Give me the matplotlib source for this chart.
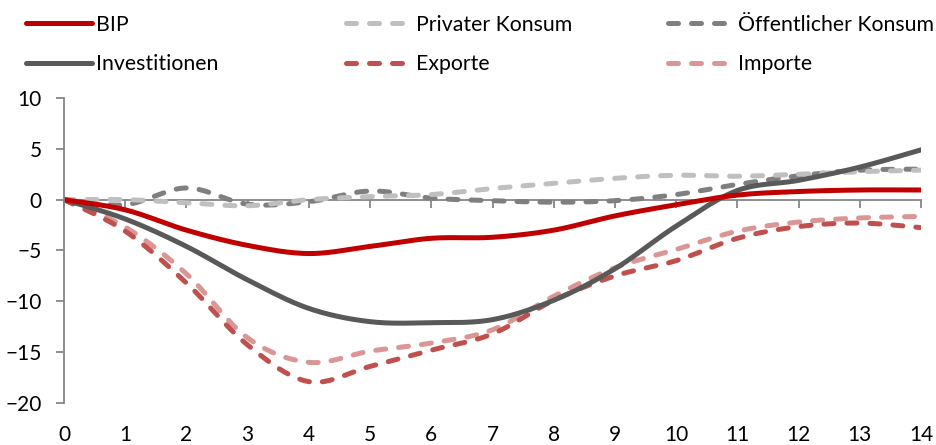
import numpy as np
import matplotlib
matplotlib.use("Agg")
import matplotlib.pyplot as plt
from matplotlib.lines import Line2D

plt.rcParams['font.family'] = ['Lato', 'DejaVu Sans']

quarters = list(range(15))
bip = [0, -1.0, -3.0, -4.5, -5.3, -4.6, -3.8, -3.7, -3.0, -1.6, -0.5, 0.45, 0.8, 0.95, 0.95]
privat = [0, 0.0, -0.3, -0.6, 0.0, 0.3, 0.5, 1.1, 1.6, 2.1, 2.4, 2.3, 2.5, 2.75, 2.9]
oeffentlich = [0, -0.5, 1.15, -0.45, -0.2, 0.85, 0.15, -0.1, -0.25, -0.1, 0.5, 1.5, 2.35, 2.9, 3.0]
invest = [0, -1.9, -4.6, -7.9, -10.7, -12.0, -12.1, -11.8, -9.9, -6.8, -2.6, 0.9, 1.9, 3.2, 4.9]
exporte = [0, -3.1, -8.2, -14.3, -17.9, -16.4, -14.8, -13.2, -9.9, -7.5, -6.0, -3.8, -2.65, -2.3, -2.75]
importe = [0, -2.7, -7.3, -13.6, -16.0, -14.9, -14.1, -12.8, -9.5, -6.7, -4.9, -3.1, -2.2, -1.8, -1.65]

series = [
    ("BIP", bip, "#C00000", "-"),
    ("Investitionen", invest, "#595959", "-"),
    ("Privater Konsum", privat, "#BFBFBF", "--"),
    ("Exporte", exporte, "#C0504D", "--"),
    ("Öffentlicher Konsum", oeffentlich, "#7F7F7F", "--"),
    ("Importe", importe, "#DA9694", "--"),
]
draw_order = [4, 2, 5, 3, 1, 0]


def smooth(x, y, n=24):
    # Excel-style smoothed line: cubic Bezier segments through each point
    x = np.asarray(x, float)
    y = np.asarray(y, float)
    px = np.concatenate([[x[0]], x, [x[-1]]])
    py = np.concatenate([[y[0]], y, [y[-1]]])
    t = np.linspace(0, 1, n)[:, None]
    xs, ys = [], []
    for i in range(1, len(px) - 2):
        p0 = np.array([px[i], py[i]])
        p3 = np.array([px[i + 1], py[i + 1]])
        c1 = p0 + (np.array([px[i + 1], py[i + 1]]) - np.array([px[i - 1], py[i - 1]])) / 6
        c2 = p3 - (np.array([px[i + 2], py[i + 2]]) - np.array([px[i], py[i]])) / 6
        pts = ((1 - t) ** 3) * p0 + 3 * ((1 - t) ** 2) * t * c1 + 3 * (1 - t) * t ** 2 * c2 + t ** 3 * p3
        xs.append(pts[:, 0])
        ys.append(pts[:, 1])
    return np.concatenate(xs), np.concatenate(ys)


fig = plt.figure(figsize=(9.36, 4.45), dpi=100)
ax = fig.add_axes([0.0684, 0.0944, 0.9156, 0.6854])

lw = 3.6
dash = (2.0, 2.6)
handles = {}
for i in draw_order:
    name, vals, color, ls = series[i]
    sx, sy = smooth(quarters, vals)
    if ls == "--":
        line, = ax.plot(sx, sy, color=color, lw=lw, dashes=dash,
                        dash_capstyle="round", solid_capstyle="round")
    else:
        line, = ax.plot(sx, sy, color=color, lw=lw, solid_capstyle="round")
    handles[name] = line

ax.set_xlim(0, 14)
ax.set_ylim(-20, 10)
ax.set_yticks([-20, -15, -10, -5, 0, 5, 10])
ax.set_xticks(quarters)

for s in ["top", "right"]:
    ax.spines[s].set_visible(False)
ax.spines["left"].set_color("#868686")
ax.spines["left"].set_linewidth(1.3)
ax.spines["bottom"].set_position(("data", 0))
ax.spines["bottom"].set_color("#868686")
ax.spines["bottom"].set_linewidth(1.3)
ax.spines["bottom"].set_zorder(0)
ax.tick_params(axis="x", direction="out", length=6, width=1.3, color="#868686",
               labelbottom=False)
ax.tick_params(axis="y", direction="out", length=6, width=1.3, color="#868686",
               labelsize=15, pad=10)

sec = ax.secondary_xaxis("bottom")
sec.set_xticks(quarters)
sec.spines["bottom"].set_visible(False)
sec.tick_params(axis="x", length=0, labelsize=15, pad=16)

# legend: three columns of two entries each
cols = [(18, ["BIP", "Investitionen"]),
        (338, ["Privater Konsum", "Exporte"]),
        (660, ["Öffentlicher Konsum", "Importe"])]
for xpix, names in cols:
    hs = []
    for nm in names:
        h = handles[nm]
        hs.append(Line2D([], [], color=h.get_color(), lw=lw,
                         linestyle=h.get_linestyle(),
                         dash_capstyle="round", solid_capstyle="round"))
        if h.get_linestyle() == "--":
            hs[-1].set_dashes(dash)
    fig.legend(hs, names, loc="upper left",
               bbox_to_anchor=((xpix - 1) / 936, 0.986),
               frameon=False, fontsize=15.3, handlelength=3.13,
               handletextpad=0.2, labelspacing=0.92, borderpad=0.1,
               borderaxespad=0.3)

fig.savefig("out.png", dpi=100)
